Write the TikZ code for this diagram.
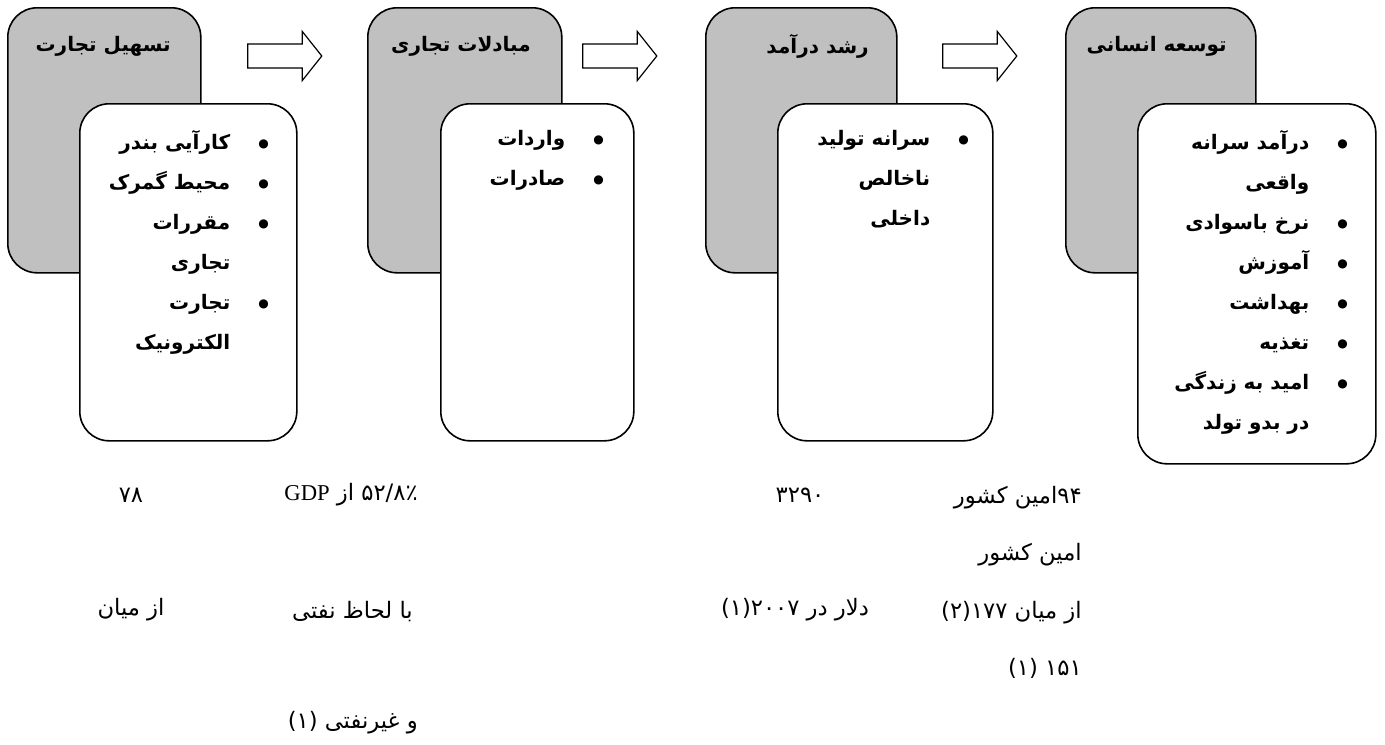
\documentclass[tikz,border=0pt]{standalone}
\usepackage{fontspec}
\usepackage{tikz}
\usetikzlibrary{shapes.arrows}
\setmainfont{Liberation Serif}
\newfontfamily\farsi[Script=Arabic]{DejaVu Sans}
\TeXXeTstate=1

\definecolor{boxgray}{RGB}{192,192,192}

\newcommand{\rl}[1]{\beginR#1\endR}
\newcommand{\bul}{\raisebox{1.2pt}{\fontsize{9}{9}\selectfont ●}}
\newcommand{\itm}[1]{\rl{\bul\hspace*{21pt}#1}}
\newcommand{\cnt}[1]{\rl{\phantom{\bul}\hspace*{21pt}#1}}

\tikzset{
  headbox/.style={draw, line width=1.2pt, fill=boxgray, rounded corners=22pt,
    minimum height=198.75pt, inner sep=0pt},
  itembox/.style={draw, line width=1.2pt, fill=white, rounded corners=22pt,
    minimum height=252.75pt, inner sep=0pt},
  headtext/.style={font=\farsi\bfseries\fontsize{15}{17}\selectfont, inner sep=0pt},
  listtext/.style={font=\farsi\bfseries\fontsize{15}{30}\selectfont, align=right, inner sep=0pt},
  flowarrow/.style={draw, line width=0.9pt, fill=white, single arrow, inner xsep=0pt,
    inner ysep=8.6pt, minimum height=55.5pt, single arrow head extend=9.4pt,
    single arrow tip angle=103},
  figtext/.style={font=\farsi\fontsize{17}{43}\selectfont, inner sep=0pt}
}

\begin{document}
\begin{tikzpicture}[x=0.75pt,y=0.75pt,yscale=-1,xscale=1]
\useasboundingbox (0,0) rectangle (1385,744);

% gray cards
\node [headbox, anchor=north west, minimum width=144.75pt] (h1) at (7,7) {};
\node [headbox, anchor=north west, minimum width=145.5pt] (h2) at (367,7) {};
\node [headbox, anchor=north west, minimum width=143.25pt] (h3) at (705,7) {};
\node [headbox, anchor=north west, minimum width=142.5pt] (h4) at (1065,7) {};

% card titles
\node [headtext, anchor=east] (t1) at (171,46) {\rl{تسهیل تجارت}};
\node [headtext, anchor=east] (t2) at (531,46) {\rl{مبادلات تجاری}};
\node [headtext, anchor=east] (t3) at (869,46) {\rl{رشد درآمد}};
\node [headtext, anchor=east] (t4) at (1227,46) {\rl{توسعه انسانی}};

% block arrows
\node [flowarrow] (a1) at (280,56) {};
\node [flowarrow] (a2) at (615,56) {};
\node [flowarrow] (a3) at (975,56) {};

% white cards
\node [itembox, anchor=north west, minimum width=162.75pt] (b1) at (79,103) {};
\node [itembox, anchor=north west, minimum width=144.75pt] (b2) at (440,103) {};
\node [itembox, anchor=north west, minimum width=161.25pt] (b3) at (777,103) {};
\node [itembox, anchor=north west, minimum width=178.5pt, minimum height=270pt] (b4) at (1137,103) {};

% lists
\node [listtext, anchor=north east] (l1) at (269,130) {%
  \itm{کارآیی بندر}\\
  \itm{محیط گمرک}\\
  \itm{مقررات}\\
  \cnt{تجاری}\\
  \itm{تجارت}\\
  \cnt{الکترونیک}};
\node [listtext, anchor=north east] (l2) at (604,130) {%
  \itm{واردات}\\
  \itm{صادرات}};
\node [listtext, anchor=north east] (l3) at (969,130) {%
  \itm{سرانه تولید}\\
  \cnt{ناخالص}\\
  \cnt{داخلی}};
\node [listtext, anchor=north east] (l4) at (1348,130) {%
  \itm{درآمد سرانه}\\
  \cnt{واقعی}\\
  \itm{نرخ باسوادی}\\
  \itm{آموزش}\\
  \itm{بهداشت}\\
  \itm{تغذیه}\\
  \itm{امید به زندگی}\\
  \cnt{در بدو تولد}};

% figures under the cards
\node [figtext] (v1) at (131,495) {\rl{۷۸}};
\node [figtext] (w1) at (131,610) {\rl{از میان}};
\node [figtext, anchor=east] (v2) at (418,495) {\rl{۵۲/۸٪ از \beginL{\rmfamily GDP}\endL}};
\node [figtext, anchor=east] (w2) at (413,612) {\rl{با لحاظ نفتی}};
\node [figtext, anchor=east] (x2) at (418,723) {\rl{و غیرنفتی (۱)}};
\node [figtext] (v3) at (800,495) {\rl{۳۲۹۰}};
\node [figtext] (w3) at (795,610) {\rl{دلار در ۲۰۰۷(۱)}};
\node [figtext, anchor=north east, align=right] (v4) at (1082,486) {%
  \rl{۹۴امین کشور}\\
  \rl{امین کشور}\\
  \rl{از میان ۱۷۷(۲)}\\
  \rl{۱۵۱ (۱)}};

\end{tikzpicture}
\end{document}
